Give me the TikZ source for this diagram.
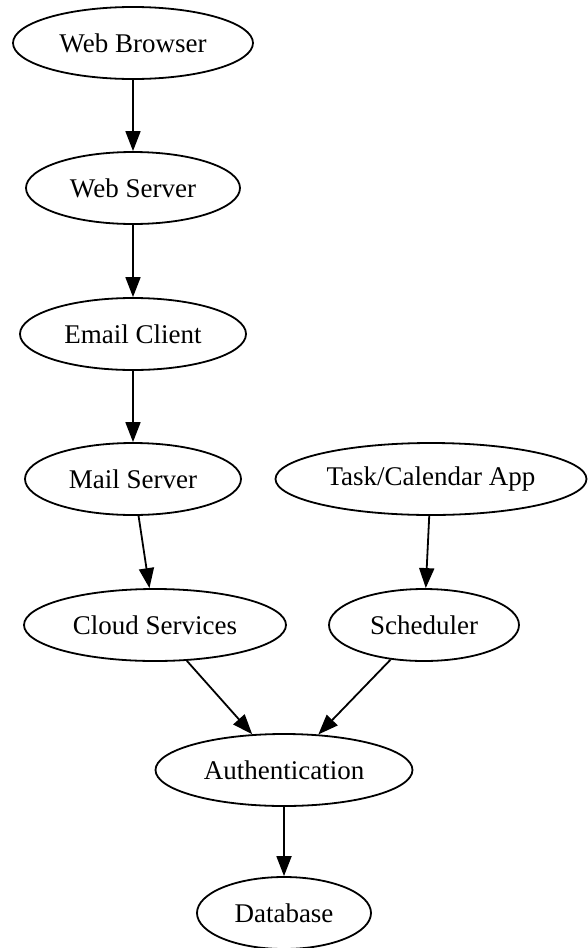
\documentclass[tikz,border=0pt]{standalone}
\usepackage{fontspec}
\setmainfont{Liberation Serif}
\usetikzlibrary{shapes.geometric,arrows.meta}
\begin{document}
\begin{tikzpicture}[x=1pt,y=-1pt,
  nd/.style={draw,ellipse,line width=1.8pt,inner sep=0pt,minimum height=72pt,font=\fontsize{27}{32}\selectfont},
  edge/.style={line width=1.8pt,-{Triangle[length=20pt,width=15pt]}}]
\useasboundingbox (0,0) rectangle (587,948);
\node[nd,minimum width=240pt] (wb) at (133,43) {Web Browser};
\node[nd,minimum width=214pt] (ws) at (133,188) {Web Server};
\node[nd,minimum width=226pt] (ec) at (133,334) {Email Client};
\node[nd,minimum width=216pt] (ms) at (133,479) {Mail Server};
\node[nd,minimum width=311pt] (tc) at (431,479) {Task/Calendar App};
\node[nd,minimum width=262pt] (cs) at (155,625) {Cloud Services};
\node[nd,minimum width=190pt] (sc) at (424,625) {Scheduler};
\node[nd,minimum width=257pt] (au) at (284,770) {Authentication};
\node[nd,minimum width=174pt] (db) at (284,913) {Database};
\draw[edge] (wb) -- (ws);
\draw[edge] (ws) -- (ec);
\draw[edge] (ec) -- (ms);
\draw[edge] (ms) -- (cs);
\draw[edge] (tc) -- (sc);
\draw[edge] (cs) -- (au);
\draw[edge] (sc) -- (au);
\draw[edge] (au) -- (db);
\end{tikzpicture}
\end{document}
